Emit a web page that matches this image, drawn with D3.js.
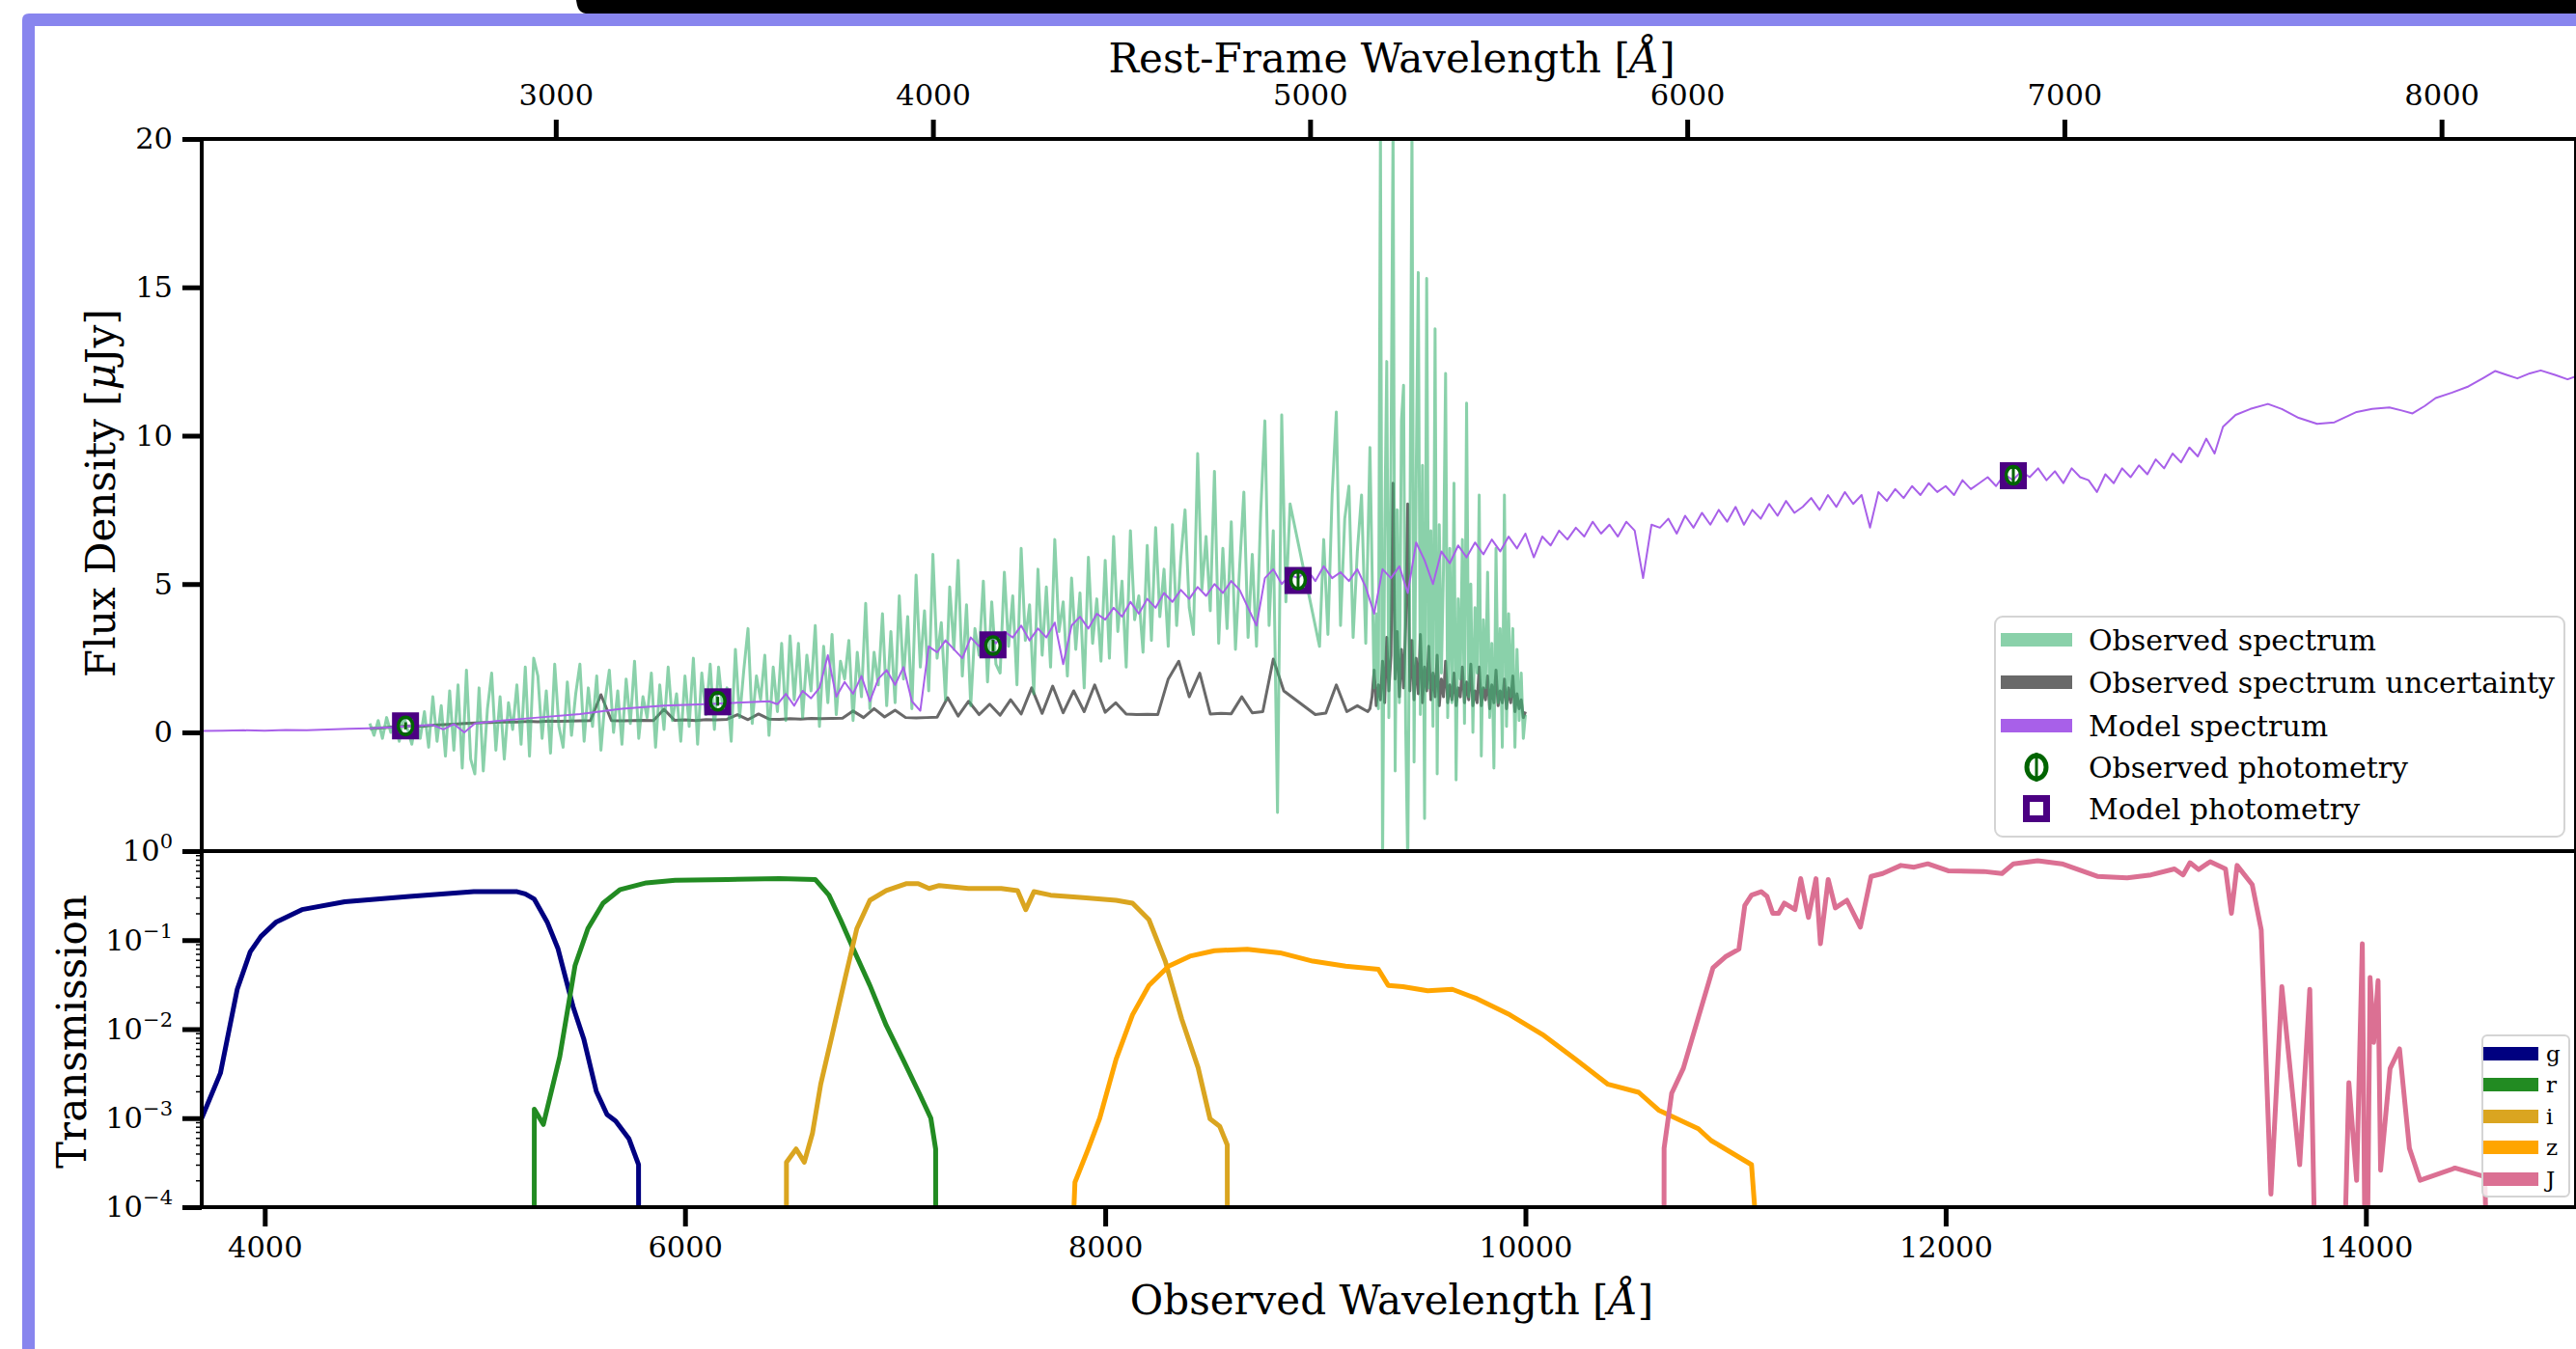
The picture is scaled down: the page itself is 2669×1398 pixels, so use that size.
<!DOCTYPE html>
<html>
<head>
<meta charset="utf-8">
<script src="https://cdn.jsdelivr.net/npm/d3@7"></script>
<style>
  html, body { margin: 0; padding: 0; background: #fff; }
  svg { display: block; }
</style>
</head>
<body>
<div id="sed-plot"></div>
<script>
// redshift factor between rest frame and observed frame
const zPlusOne = 1.795;

// observed spectrum, blue part (uniform grid in observed wavelength, null = no data)
const obsStart = 4500, obsStep = 20;
const obsFlux = [
  0.3, -0.1, 0.4, -0.2, 0.5, 0.0, 0.3, -0.3, 0.6, 0.1, -0.4, 0.5, -0.2, 0.7, -0.5, 1.2, -0.3, 0.9, -0.8, 1.4, -0.6, 1.6, -1.2, 2.1, -0.9,
  -1.4, 1.5, -1.3, 0.8, 2.0, -0.6, 1.2, -0.9, 1.0, 0.1, 1.6, -0.4, 2.2, -0.8, 2.5, 1.9, -0.2, 1.4, -0.7, 2.3, 0.2, -0.5, 1.7, -0.1, 1.3,
  2.3, -0.3, 1.5, 0.2, 1.9, -0.6, 1.1, 2.1, 0.0, 1.4, -0.4, 1.8, 0.3, 2.4, -0.2, 1.2, 0.5, 2.0, -0.5, 1.6, 0.1, 2.2, 0.4, 1.3, -0.3,
  1.9, 0.2, 2.5, -0.4, 2.0, 0.6, 2.3, 0.1, 2.2, 0.8, 1.5, -0.3, 2.8, 0.5, 2.1, 3.5, 0.3, 1.9, 1.1, 2.6, -0.1, 2.2, 0.7, 3.0, 0.4,
  3.25, 1.1, 3.0, 0.5, 2.6, 1.4, 3.6, 0.2, 2.9, 1.0, 3.3, 0.6, 2.4, 1.8, 3.1, 0.4, 2.7, 1.2, 4.35, 0.8, 2.7, 1.6, 4.0, 0.9, 3.4,
  1.0, 4.6, 1.8, 3.9, 0.8, 5.3, 2.2, 4.1, 1.4, 6.0, 2.5, 3.7, 1.1, 4.9, 2.8, 5.8, 1.9, 4.3, 0.9, 3.5, 2.6, 5.1, 1.7, 4.4, 2.3,
  2.0, 5.4, 2.9, 4.6, 1.6, 6.2, 3.1, 4.3, 1.3, 5.5, 2.6, 4.9, 2.2, 6.5, 3.4, 4.4, 1.9, 5.2, 2.8, 4.7, 1.5, 5.9, 3.0, 4.5, 2.4,
  5.8, 2.5, 6.6, 3.4, 5.1, 2.2, 6.8, 3.8, 4.6, 2.7, 6.3, 3.1, 6.9, 3.9, 5.5, 2.9, 7.0, 3.6, 5.9, 7.5, 4.2, 3.3, 9.4, 4.8, 6.6,
  4.1, 8.8, 3.0, 6.2, 3.5, 7.1, 2.8, 5.6, 8.1, 3.2, 6.0, 2.9, 7.4, 10.5, 3.6, 6.8, -2.7, 10.7, 4.4, 7.7, null, null, null, null, null,
  null, 2.9, 6.5, 3.3, 8.0, 10.8, 3.6, 7.2, 8.3, 3.2, 6.1, 8.0, 3.0, 9.6, 1.5
];
// observed spectrum, red part (finer grid)
const obsRedStart = 9290, obsRedStep = 10;
const obsRedFlux = [
  4.0, 0.8, 20.5, -4.5, 6.5, 12.5, 0.5, 9.0, 20.5, -1.3,
  7.5, 1.0, 10.5, 11.7, 0.2, -4.5, 6.0, 20.5, -1.0, 8.5,
  15.5, 0.6, 9.0, -2.9, 15.3, 1.5, 6.8, 0.2, 13.6, -1.4,
  7.0, 2.0, 5.5, 12.1, 0.5, 6.2, 1.0, 8.4, -1.6, 4.5,
  1.8, 6.5, 0.3, 11.1, 1.2, 5.0, 0.0, 4.2, 2.0, 8.0,
  -0.8, 3.8, 1.5, 5.4, 0.5, 3.0, -1.2, 6.2, 1.0, 3.5,
  -0.5, 8.0, 0.2, 4.0, 1.2, 3.5, -0.5, 2.8, 0.4, 2.0,
  -0.2, 0.6
];

// observed spectrum uncertainty
const errStart = 4500, errStep = 50;
const errFlux = [
  0.13, 0.15, 0.18, 0.2, 0.22, 0.2, 0.24, 0.26, 0.28, 0.3,
  0.32, 0.33, 0.34, 0.36, 0.35, 0.37, 0.36, 0.38, 0.37, 0.38,
  0.39, 0.4, 1.27, 0.4, 0.39, 0.4, 0.41, 0.4, 0.78, 0.41,
  0.42, 0.4, 0.43, 0.42, 0.44, 0.6, 0.43, 0.62, 0.45, 0.44,
  0.46, 0.45, 0.47, 0.46, 0.47, 0.48, 0.72, 0.5, 0.8, 0.52,
  0.75, 0.5, 0.49, 0.5, 0.51, 1.17, 0.55, 1.05, 0.6, 0.95,
  0.58, 1.1, 0.62, 1.5, 0.64, 1.56, 0.66, 1.4, 0.7, 1.6,
  0.68, 1.0, 0.62, 0.6, 0.61, 0.6, 1.8, 2.4, 1.2, 2.0,
  0.62, 0.64, 0.63, 1.2, 0.66, 0.7, 2.47, 1.4, null, null,
  0.6, 0.65, 1.6, 0.7, 0.9, 0.7
];
const errRedStart = 9260, errRedStep = 10;
const errRedFlux = [
  0.8, 1.2, 2.1, 0.9, 1.6, 1.1, 2.4, 1.0, 3.2, 1.4,
  2.6, 8.4, 1.8, 3.4, 1.2, 2.8, 1.5, 3.6, 7.7, 1.4,
  3.1, 1.1, 2.5, 1.3, 3.3, 1.0, 2.2, 1.4, 2.9, 1.1,
  2.0, 1.2, 2.6, 0.9, 1.8, 1.2, 2.4, 1.0, 1.6, 1.1,
  2.0, 0.9, 1.5, 1.2, 2.2, 1.0, 1.7, 1.1, 2.3, 0.9,
  1.4, 1.0, 2.2, 0.9, 1.5, 1.1, 1.9, 0.8, 1.6, 1.0,
  2.1, 0.9, 1.4, 1.0, 1.8, 0.8, 1.5, 1.0, 1.9, 0.7,
  1.3, 0.8, 1.1, 0.5, 0.7
];

// model spectrum: blue end, noisy middle (uniform grid), red end
const modelBlueWave = [3700, 3800, 3900, 4000, 4100, 4200, 4300, 4400, 4500, 4600, 4700, 4800, 4850, 4900, 4950, 5000, 5100, 5300, 5500, 5700, 5900, 6100, 6300];
const modelBlueFlux = [0.05, 0.06, 0.07, 0.06, 0.08, 0.07, 0.1, 0.12, 0.14, 0.17, 0.22, 0.25, 0.1, 0.28, 0.0, 0.3, 0.38, 0.5, 0.62, 0.8, 0.9, 0.95, 1.02];
const modelMidStart = 6400, modelMidStep = 40;
const modelMidFlux = [
  1.05, 0.95, 1.3, 0.9, 1.4, 1.15, 1.5, 2.6, 1.2, 1.7, 1.3, 1.9, 1.05, 1.8, 2.1, 1.6, 2.2, 1.05, 0.73, 2.9, 2.7, 3.1, 2.8, 2.5, 3.2,
  2.9, 3.3, 3.0, 3.4, 3.2, 3.6, 3.1, 3.5, 3.2, 3.7, 2.3, 3.6, 3.9, 3.5, 4.0, 3.8, 4.2, 3.9, 4.4, 4.0, 4.5, 4.2, 4.7, 4.4, 4.8,
  4.5, 4.9, 4.6, 5.0, 4.7, 5.1, 4.8, 4.2, 3.6, 5.2, 5.5, 5.0, 5.3, 5.2, 5.5, 5.1, 5.6, 5.2, 5.4, 5.1, 5.5, 4.9, 4.0, 5.5, 5.2,
  5.6, 4.7, 6.4, 5.8, 5.0, 6.1, 5.7, 6.3, 5.9, 6.4, 6.0, 6.5, 6.1, 6.6, 6.2, 6.7, 5.9, 6.6, 6.3, 6.8, 6.5, 6.9, 6.6, 7.1, 6.7,
  7.0, 6.6, 7.1, 6.8, 5.2, 7.0, 6.9, 7.2, 6.7, 7.3, 6.9, 7.4, 7.0, 7.5, 7.1, 7.6, 7.0, 7.5, 7.2, 7.7, 7.3, 7.8, 7.4, 7.6, 7.9,
  7.5, 8.0, 7.6, 8.1, 7.7, 8.0, 6.9, 8.1, 7.8, 8.2, 7.9, 8.3, 8.0, 8.4, 8.1, 8.3, 8.0, 8.5, 8.2, 8.4, 8.6, 8.3, 8.7, 8.5, 8.8,
  8.6, 8.9, 8.5, 8.8, 8.4, 8.9, 8.6, 8.5, 8.1, 8.7, 8.4, 8.9, 8.6, 9.0, 8.7, 9.2, 8.9, 9.4, 9.1, 9.6, 9.3, 9.9, 9.4
];
const modelRedWave = [13320, 13380, 13450, 13534, 13600, 13680, 13768, 13850, 13956, 14030, 14112, 14170, 14222, 14280, 14332, 14410, 14488, 14560, 14616, 14670, 14721, 14780, 14832, 14900, 14960, 15000];
const modelRedFlux = [10.3, 10.7, 10.9, 11.07, 10.9, 10.6, 10.4, 10.45, 10.8, 10.9, 10.95, 10.85, 10.75, 11.0, 11.27, 11.45, 11.66, 11.95, 12.18, 12.05, 11.93, 12.1, 12.2, 12.05, 11.9, 12.0];

// photometry (g, r, i, z, J)
const photWave = [4670, 6156, 7466, 8918, 12322];
const obsPhotFlux = [0.22, 1.05, 2.93, 5.14, 8.67];
const obsPhotErr = [0.12, 0.15, 0.2, 0.25, 0.3];
const modelPhotFlux = [0.22, 1.03, 2.95, 5.12, 8.65];

// filter transmission curves
const filterNames = ['g', 'r', 'i', 'z', 'J'];
const filterColors = ['#000080', '#228b22', '#daa520', '#ffa500', '#db7093'];
const gWave = [3700, 3789, 3869, 3931, 3982, 4055, 4177, 4381, 4688, 4995, 5201, 5240, 5282, 5344, 5395, 5467, 5518, 5578, 5629, 5670, 5733, 5779, 5780];
const gTrans = [1.0e-3, 3.2e-3, 2.8e-2, 7.4e-2, 0.11, 0.16, 0.22, 0.27, 0.31, 0.35, 0.35, 0.33, 0.29, 0.16, 0.081, 0.018, 7.8e-3, 2.0e-3, 1.1e-3, 9.3e-4, 5.9e-4, 3.0e-4, 0];
const rWave = [5282, 5283, 5326, 5404, 5477, 5538, 5610, 5692, 5816, 5953, 6200, 6450, 6620, 6685, 6740, 6802, 6880, 6958, 7037, 7115, 7170, 7193, 7194];
const rTrans = [0, 1.26e-3, 8.5e-4, 4.9e-3, 0.052, 0.135, 0.26, 0.37, 0.44, 0.47, 0.48, 0.49, 0.48, 0.32, 0.17, 0.079, 0.031, 0.011, 4.6e-3, 1.9e-3, 1.0e-3, 4.5e-4, 0];
const iWave = [6482, 6483, 6529, 6568, 6607, 6646, 6701, 6763, 6818, 6880, 6958, 7052, 7110, 7162, 7210, 7349, 7505, 7583, 7622, 7661, 7740, 7895, 8052, 8130, 8208, 8286, 8364, 8442, 8499, 8545, 8581, 8582];
const iTrans = [0, 3.2e-4, 4.5e-4, 3.2e-4, 6.8e-4, 2.4e-3, 8.7e-3, 0.038, 0.135, 0.28, 0.36, 0.43, 0.43, 0.38, 0.41, 0.38, 0.38, 0.36, 0.22, 0.35, 0.32, 0.30, 0.28, 0.26, 0.17, 0.058, 0.013, 3.7e-3, 9.8e-4, 8.1e-4, 5.0e-4, 0];
const zWave = [7817, 7856, 7919, 7974, 8052, 8130, 8208, 8302, 8403, 8520, 8676, 8832, 8988, 9144, 9300, 9347, 9417, 9535, 9652, 9769, 9925, 10081, 10237, 10393, 10539, 10634, 10823, 10884, 11076, 11154];
const zTrans = [0, 1.9e-4, 4.5e-4, 1.0e-3, 4.6e-3, 0.0145, 0.031, 0.051, 0.066, 0.076, 0.079, 0.072, 0.058, 0.051, 0.047, 0.031, 0.030, 0.027, 0.028, 0.022, 0.0145, 8.7e-3, 4.6e-3, 2.4e-3, 1.95e-3, 1.23e-3, 7.6e-4, 5.6e-4, 3.0e-4, 0];
const jWave = [10659, 10660, 10696, 10751, 10824, 10893, 10952, 11016, 11044, 11076, 11122, 11150, 11177, 11205, 11232, 11283, 11310, 11347, 11383, 11404, 11441, 11475, 11530, 11594, 11645, 11700, 11787, 11850, 11915, 12012, 12181, 12268, 12323, 12438, 12553, 12722, 12864, 12977, 13089, 13130, 13163, 13204, 13259, 13332, 13360, 13387, 13459, 13502, 13548, 13600, 13685, 13733, 13770, 13882, 13919, 13956, 13983, 14001, 14020, 14037, 14058, 14070, 14115, 14160, 14207, 14258, 14424, 14566, 14590];
const jTrans = [0, 4.6e-4, 1.9e-3, 3.6e-3, 0.0138, 0.049, 0.065, 0.079, 0.245, 0.32, 0.35, 0.31, 0.20, 0.20, 0.26, 0.22, 0.49, 0.18, 0.49, 0.091, 0.48, 0.23, 0.28, 0.14, 0.52, 0.56, 0.69, 0.66, 0.72, 0.60, 0.59, 0.56, 0.72, 0.78, 0.72, 0.52, 0.50, 0.54, 0.63, 0.54, 0.74, 0.62, 0.76, 0.63, 0.20, 0.69, 0.42, 0.13, 1.4e-4, 0.030, 3.0e-4, 0.028, 0, 0, 2.5e-3, 2.0e-4, 0.091, 0, 0.038, 7.1e-3, 0.035, 2.6e-4, 3.6e-3, 6.0e-3, 4.6e-4, 2.0e-4, 2.75e-4, 2.2e-4, 0];

// ticks and labels
const restTicks = [3000, 4000, 5000, 6000, 7000, 8000];
const obsTicks = [4000, 6000, 8000, 10000, 12000, 14000];
const fluxTicks = [0, 5, 10, 15, 20];
const transTicks = [1e-4, 1e-3, 1e-2, 1e-1, 1];
const legendLabels = ['Observed spectrum', 'Observed spectrum uncertainty', 'Model spectrum', 'Observed photometry', 'Model photometry'];

document.addEventListener('DOMContentLoaded', () => {
    const W = 2669, H = 1398;
    const left = 209, right = 2669;
    const topY0 = 144, topY1 = 882, botY1 = 1251;
    const font = '"DejaVu Serif", serif';

    const cObs = '#3cb371', cErr = '#696969', cModel = '#a860e9';
    const cObsPhot = '#006400', cModelPhot = '#4b0082';

    const svg = d3.select('#sed-plot').append('svg')
        .attr('width', W)
        .attr('height', H)
        .style('font-family', font);

    svg.append('rect').attr('width', W).attr('height', H).attr('fill', '#fff');

    // slide frame bits
    svg.append('path')
        .attr('d', 'M597,0 C598,8 600,13 607,14 L2669,14 L2669,0 Z')
        .attr('fill', '#000');
    svg.append('path')
        .attr('d', 'M23,1398 L23,21 Q23,14 30,14 L2669,14 L2669,27 L36,27 L36,1398 Z')
        .attr('fill', '#8885ee');

    const x = d3.scaleLinear().domain([3700, 15000]).range([left, right]);
    const xRest = d3.scaleLinear().domain([3700 / zPlusOne, 15000 / zPlusOne]).range([left, right]);
    const yTop = d3.scaleLinear().domain([-4, 20]).range([topY1, topY0]);
    const yBot = d3.scaleLog().domain([1e-4, 1]).range([botY1, topY1]);

    const defs = svg.append('defs');
    defs.append('clipPath').attr('id', 'clip-top')
        .append('rect').attr('x', left).attr('y', topY0).attr('width', right - left).attr('height', topY1 - topY0);
    defs.append('clipPath').attr('id', 'clip-bot')
        .append('rect').attr('x', left).attr('y', topY1).attr('width', right - left).attr('height', botY1 - topY1);

    // build point lists
    const gridSeries = (start, step, vals) => vals
        .map((f, i) => ({ w: start + i * step, f: f }))
        .filter(d => d.f !== null);
    const pairSeries = (ws, fs) => ws.map((w, i) => ({ w: w, f: fs[i] }));

    const obsData = gridSeries(obsStart, obsStep, obsFlux)
        .concat(gridSeries(obsRedStart, obsRedStep, obsRedFlux));
    const errData = gridSeries(errStart, errStep, errFlux)
        .concat(gridSeries(errRedStart, errRedStep, errRedFlux));
    const modelData = pairSeries(modelBlueWave, modelBlueFlux)
        .concat(gridSeries(modelMidStart, modelMidStep, modelMidFlux))
        .concat(pairSeries(modelRedWave, modelRedFlux));

    const lineTop = d3.line().x(d => x(d.w)).y(d => yTop(d.f));
    const lineBot = d3.line().x(d => x(d.w)).y(d => yBot(Math.max(d.f, 1e-6)));

    const topPlot = svg.append('g').attr('clip-path', 'url(#clip-top)');

    topPlot.append('path').datum(errData)
        .attr('d', lineTop).attr('fill', 'none')
        .attr('stroke', cErr).attr('stroke-width', 3).attr('stroke-linejoin', 'round');

    topPlot.append('path').datum(obsData)
        .attr('d', lineTop).attr('fill', 'none')
        .attr('stroke', cObs).attr('stroke-opacity', 0.6)
        .attr('stroke-width', 3).attr('stroke-linejoin', 'round');

    topPlot.append('path').datum(modelData)
        .attr('d', lineTop).attr('fill', 'none')
        .attr('stroke', cModel).attr('stroke-width', 2).attr('stroke-linejoin', 'round');

    // photometry markers
    const phot = photWave.map((w, i) => ({ w: w, o: obsPhotFlux[i], e: obsPhotErr[i], m: modelPhotFlux[i] }));

    topPlot.selectAll('.model-phot').data(phot).enter().append('rect')
        .attr('class', 'model-phot')
        .attr('x', d => x(d.w) - 10.5).attr('y', d => yTop(d.m) - 10.5)
        .attr('width', 21).attr('height', 21)
        .attr('fill', 'none').attr('stroke', cModelPhot).attr('stroke-width', 7);

    topPlot.selectAll('.obs-err').data(phot).enter().append('line')
        .attr('class', 'obs-err')
        .attr('x1', d => x(d.w)).attr('x2', d => x(d.w))
        .attr('y1', d => yTop(d.o - d.e)).attr('y2', d => yTop(d.o + d.e))
        .attr('stroke', cObsPhot).attr('stroke-width', 3);

    topPlot.selectAll('.obs-phot').data(phot).enter().append('ellipse')
        .attr('class', 'obs-phot')
        .attr('cx', d => x(d.w)).attr('cy', d => yTop(d.o))
        .attr('rx', 7.5).attr('ry', 9)
        .attr('fill', 'none').attr('stroke', cObsPhot).attr('stroke-width', 3.5);

    // filter curves
    const filters = [
        pairSeries(gWave, gTrans), pairSeries(rWave, rTrans), pairSeries(iWave, iTrans),
        pairSeries(zWave, zTrans), pairSeries(jWave, jTrans)
    ];
    const botPlot = svg.append('g').attr('clip-path', 'url(#clip-bot)');
    filters.forEach((f, i) => {
        botPlot.append('path').datum(f)
            .attr('d', lineBot).attr('fill', 'none')
            .attr('stroke', filterColors[i]).attr('stroke-width', 5)
            .attr('stroke-linejoin', 'round');
    });

    // axes
    const styleAxis = (g, size) => {
        g.attr('font-family', font).attr('font-size', size);
        g.select('.domain').remove();
        g.selectAll('.tick line').attr('stroke', '#000').attr('stroke-width', 5);
        g.selectAll('.tick text').attr('fill', '#000');
    };

    svg.append('g')
        .attr('transform', 'translate(0,' + topY0 + ')')
        .call(d3.axisTop(xRest).tickValues(restTicks).tickFormat(d3.format('d')).tickSize(20).tickPadding(15))
        .call(g => styleAxis(g, 30.5));

    svg.append('g')
        .attr('transform', 'translate(0,' + botY1 + ')')
        .call(d3.axisBottom(x).tickValues(obsTicks).tickFormat(d3.format('d')).tickSize(20).tickPadding(10))
        .call(g => styleAxis(g, 30.5));

    svg.append('g')
        .attr('transform', 'translate(' + left + ',0)')
        .call(d3.axisLeft(yTop).tickValues(fluxTicks).tickFormat(d3.format('d')).tickSize(20).tickPadding(10))
        .call(g => styleAxis(g, 30.5));

    // minor log ticks
    const minorTicks = [];
    [-4, -3, -2, -1].forEach(k => {
        for (let m = 2; m <= 9; m++) minorTicks.push(m * Math.pow(10, k));
    });
    svg.append('g')
        .attr('transform', 'translate(' + left + ',0)')
        .call(d3.axisLeft(yBot).tickValues(minorTicks).tickFormat('').tickSize(6))
        .call(g => {
            g.select('.domain').remove();
            g.selectAll('.tick line').attr('stroke', '#000').attr('stroke-width', 1.5);
        });

    const botLeft = svg.append('g')
        .attr('transform', 'translate(' + left + ',0)')
        .call(d3.axisLeft(yBot).tickValues(transTicks).tickFormat('').tickSize(20).tickPadding(10))
        .call(g => styleAxis(g, 30.5));
    botLeft.selectAll('.tick text').each(function (d) {
        const exp = Math.round(Math.log10(d));
        const t = d3.select(this).text('').attr('x', -30).attr('dy', '0.32em');
        t.append('tspan').text('10');
        t.append('tspan').attr('dy', -13).attr('font-size', 21)
            .text(exp === 0 ? '0' : '\u2212' + Math.abs(exp));
    });

    // spines
    const spines = svg.append('g').attr('fill', 'none').attr('stroke', '#000').attr('stroke-width', 4);
    spines.append('rect').attr('x', left).attr('y', topY0).attr('width', right - left).attr('height', topY1 - topY0);
    spines.append('rect').attr('x', left).attr('y', topY1).attr('width', right - left).attr('height', botY1 - topY1);

    // axis labels
    const axisLabel = (tx, ty, rot, parts) => {
        const t = svg.append('text')
            .attr('transform', 'translate(' + tx + ',' + ty + ') rotate(' + rot + ')')
            .attr('text-anchor', 'middle').attr('font-size', 42).attr('fill', '#000');
        parts.forEach(p => {
            t.append('tspan').attr('font-style', p[1] ? 'italic' : 'normal').text(p[0]);
        });
    };
    axisLabel(1442, 75, 0, [['Rest-Frame Wavelength [', false], ['\u00c5', true], [']', false]]);
    axisLabel(1442, 1362, 0, [['Observed Wavelength [', false], ['\u00c5', true], [']', false]]);
    axisLabel(119, 511, -90, [['Flux Density [', false], ['\u03bc', true], ['Jy]', false]]);
    axisLabel(89, 1069, -90, [['Transmission', false]]);

    // legend, top panel
    const leg = svg.append('g');
    leg.append('rect')
        .attr('x', 2067).attr('y', 639).attr('width', 590).attr('height', 228).attr('rx', 8)
        .attr('fill', '#fff').attr('fill-opacity', 0.8)
        .attr('stroke', '#d4d4d4').attr('stroke-width', 2);
    const rowY = [663, 707, 752, 795, 838];
    const lineHandles = [[cObs, 0.6], [cErr, 1], [cModel, 1]];
    lineHandles.forEach((h, i) => {
        leg.append('line')
            .attr('x1', 2073).attr('x2', 2147).attr('y1', rowY[i]).attr('y2', rowY[i])
            .attr('stroke', h[0]).attr('stroke-opacity', h[1]).attr('stroke-width', 14);
    });
    leg.append('line')
        .attr('x1', 2110).attr('x2', 2110).attr('y1', rowY[3] - 15).attr('y2', rowY[3] + 15)
        .attr('stroke', cObsPhot).attr('stroke-width', 3);
    leg.append('ellipse')
        .attr('cx', 2110).attr('cy', rowY[3]).attr('rx', 10).attr('ry', 12)
        .attr('fill', 'none').attr('stroke', cObsPhot).attr('stroke-width', 5);
    leg.append('rect')
        .attr('x', 2110 - 10.5).attr('y', rowY[4] - 10.5).attr('width', 21).attr('height', 21)
        .attr('fill', '#fff').attr('stroke', cModelPhot).attr('stroke-width', 7);
    leg.selectAll('.leg-text').data(legendLabels).enter().append('text')
        .attr('class', 'leg-text')
        .attr('x', 2164).attr('y', (d, i) => rowY[i]).attr('dy', '0.35em')
        .attr('font-size', 30).attr('fill', '#000')
        .text(d => d);

    // legend, filter panel
    const fleg = svg.append('g');
    fleg.append('rect')
        .attr('x', 2572).attr('y', 1073).attr('width', 90).attr('height', 167).attr('rx', 5)
        .attr('fill', '#fff').attr('fill-opacity', 0.8)
        .attr('stroke', '#d4d4d4').attr('stroke-width', 2);
    const frowY = [1092, 1124, 1157, 1189, 1222];
    filterNames.forEach((n, i) => {
        fleg.append('line')
            .attr('x1', 2573).attr('x2', 2630).attr('y1', frowY[i]).attr('y2', frowY[i])
            .attr('stroke', filterColors[i]).attr('stroke-width', 14);
        fleg.append('text')
            .attr('x', 2638).attr('y', frowY[i]).attr('dy', '0.35em')
            .attr('font-size', 23).attr('fill', '#000')
            .text(n);
    });
});
</script>
</body>
</html>
